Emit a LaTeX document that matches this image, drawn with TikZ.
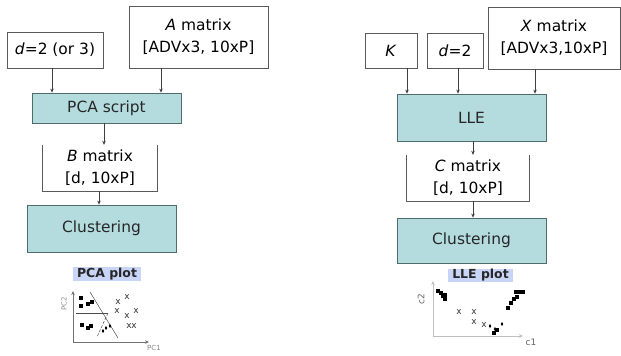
\documentclass[tikz,border=0pt]{standalone}
\usepackage{fontspec}
\setmainfont{DejaVu Sans}
\usetikzlibrary{shapes.geometric,arrows.meta}
\definecolor{boxteal}{HTML}{B4DCDF}
\definecolor{tealedge}{HTML}{4F6B6C}
\definecolor{boxedge}{HTML}{5A5A5A}
\definecolor{labelblue}{HTML}{C9D5F7}
\tikzset{
  inbox/.style={draw=boxedge, line width=0.7pt, fill=white, align=center, inner sep=0pt},
  openbox/.style={align=center, inner sep=0pt},
  procbox/.style={draw=tealedge, line width=0.8pt, fill=boxteal, align=center, inner sep=0pt, text=black!85},
  arr/.style={draw=black!75, line width=0.5pt, -{Stealth[length=4bp,width=3.5bp]}},
  plotlabel/.style={fill=labelblue, inner sep=0pt, font=\fontsize{12.5}{14}\selectfont\bfseries, text=black!85},
  axis/.style={draw=black!55, line width=0.8pt, -{Stealth[length=4bp,width=3.5bp]}},
  tinylab/.style={font=\fontsize{7}{8}\selectfont, text=black!45, inner sep=0pt},
  xmark/.style={font=\fontsize{9}{9}\selectfont, text=black!80, inner sep=0pt},
  sq/.style={fill=black, minimum size=3.3bp, inner sep=0pt},
  dm/.style={diamond, fill=black, minimum width=2.5bp, minimum height=4.5bp, inner sep=0pt},
  sep/.style={draw=black!70, line width=0.5pt}
}
\begin{document}
\begin{tikzpicture}[x=1bp,y=-1bp, font=\fontsize{15.5}{22}\selectfont]
\useasboundingbox (0,0) rectangle (621,355);

% ---------------- Left: PCA ----------------
\node[inbox, minimum width=96bp, minimum height=36bp] (dL) at (55,50) {\textit{d}=2 (or 3)};
\node[inbox, minimum width=139bp, minimum height=62bp] (A) at (198.5,37) {\textit{A} matrix\\{[}ADVx3, 10xP]};
\node[procbox, minimum width=149bp, minimum height=30bp] (pca) at (106.5,108) {PCA script};
\node[openbox, minimum width=114bp, minimum height=46bp] (B) at (100,168) {\textit{B} matrix\\{[}d, 10xP]};
\draw[draw=boxedge, line width=0.7pt] (B.north west) -- (B.south west) -- (B.south east) -- (B.north east);
\node[procbox, minimum width=149bp, minimum height=47bp] (clL) at (101.5,228.5) {Clustering};
\node[plotlabel, minimum width=68bp, minimum height=14bp] (pcal) at (107,274) {PCA plot};

\coordinate (aL1) at (52,68);
\coordinate (aL2) at (161,68);
\coordinate (aL3) at (104,123);
\coordinate (aL4) at (99,191);
\draw[arr] (aL1) -- (aL1 |- pca.north);
\draw[arr] (aL2) -- (aL2 |- pca.north);
\draw[arr] (aL3) -- (aL3 |- B.north);
\draw[arr] (aL4) -- (aL4 |- clL.north);

% PCA plot
\coordinate (oL) at (73,342);
\coordinate (yL) at (73,291);
\coordinate (xL) at (149,342);
\draw[axis] (oL) -- (yL);
\draw[axis] (oL) -- (xL);
\node[tinylab, rotate=90] (pc2) at (64,304) {PC2};
\node[tinylab] (pc1) at (154,348) {PC1};
\coordinate (s1) at (90,292);
\coordinate (s2) at (118,338);
\coordinate (h1) at (76,313);
\coordinate (h2) at (108,313);
\coordinate (d1) at (97,337);
\draw[sep] (s1) -- (s2);
\draw[sep] (h1) -- (h2);
\draw[sep, dashed, dash pattern=on 3bp off 1.5bp] (h2) -- (d1);
\foreach \p in {(81,298),(81,306),(88,304),(92,302),(82,325),(88,328),(91,326)}
  \node[sq] at \p {};
\foreach \p in {(103,331),(106,328),(110,326)}
  \node[dm] at \p {};
\foreach \p in {(118,302),(127,297),(117,311),(127,316),(136,311),(129,326),(134,326)}
  \node[xmark] at \p {x};

% ---------------- Right: LLE ----------------
\node[inbox, minimum width=52bp, minimum height=35bp] (K) at (391,50.5) {\textit{K}};
\node[inbox, minimum width=56bp, minimum height=35bp] (dR) at (455,50.5) {\textit{d}=2};
\node[inbox, minimum width=132bp, minimum height=62bp] (X) at (554,38) {\textit{X} matrix\\{[}ADVx3,10xP]};
\node[procbox, minimum width=149bp, minimum height=47bp] (lle) at (471.5,117.5) {LLE};
\node[openbox, minimum width=122bp, minimum height=46bp] (C) at (468,178) {\textit{C} matrix\\{[}d, 10xP]};
\draw[draw=boxedge, line width=0.7pt] (C.north west) -- (C.south west) -- (C.south east) -- (C.north east);
\node[procbox, minimum width=149bp, minimum height=45bp] (clR) at (471.5,240.5) {Clustering};
\node[plotlabel, minimum width=65bp, minimum height=13bp] (llel) at (480.5,275.5) {LLE plot};

\coordinate (aR1) at (407,68);
\coordinate (aR2) at (458,68);
\coordinate (aR3) at (535,69);
\coordinate (aR4) at (473,141);
\coordinate (aR5) at (473,201);
\draw[arr] (aR1) -- (aR1 |- lle.north);
\draw[arr] (aR2) -- (aR2 |- lle.north);
\draw[arr] (aR3) -- (aR3 |- lle.north);
\draw[arr] (aR4) -- (aR4 |- C.north);
\draw[arr] (aR5) -- (aR5 |- clR.north);

% LLE plot
\coordinate (oR) at (433,336);
\coordinate (yR) at (433,281);
\coordinate (xR) at (523,336);
\draw[axis, draw=black!25] (oR) -- (yR);
\draw[axis, draw=black!25] (oR) -- (xR);
\node[tinylab, rotate=90, font=\fontsize{9}{9}\selectfont, text=black!60] (c2) at (421,299) {c2};
\node[tinylab, font=\fontsize{9}{9}\selectfont, text=black!60] (c1) at (531,342) {c1};
\foreach \p in {(438,291),(441,293),(445,295),(445,299),(443,296),
                (494,333),(497,330),(508,308),(511,303),(514,299),(517,297),(516,292),(520,292),(523,292)}
  \node[sq] at \p {};
\foreach \p in {(490,326),(495,329),(502,324)}
  \node[dm] at \p {};
\foreach \p in {(459,312),(474,312),(474,322),(484,325)}
  \node[xmark] at \p {x};
\end{tikzpicture}
\end{document}
